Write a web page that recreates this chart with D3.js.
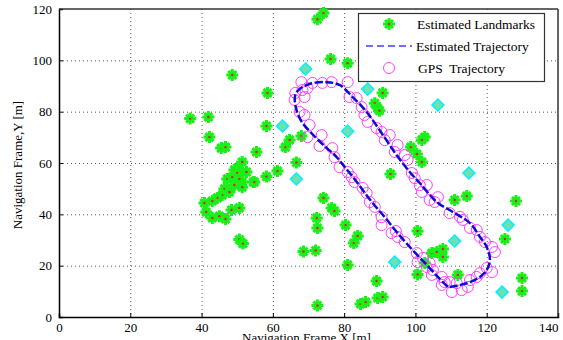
<!DOCTYPE html>
<html>
<head>
<meta charset="utf-8">
<script src="https://cdn.jsdelivr.net/npm/d3@7"></script>
<style>
  body { margin: 0; background: #fff; }
  text { font-family: "Liberation Serif", "Times New Roman", serif; }
</style>
</head>
<body>
<svg id="chart" width="563" height="340"></svg>
<script>
const xTicks = [0, 20, 40, 60, 80, 100, 120, 140];
const yTicks = [0, 20, 40, 60, 80, 100, 120];

// estimated landmarks [x, y]
const landmarks = [
  [36.8, 77.3], [41.9, 77.9], [48.6, 94.3], [58.5, 87.3], [58.2, 74.4], [42.2, 70.1],
  [45.5, 65.8], [46.7, 66.2], [55.4, 64.3], [51.4, 60.4], [72.5, 116.0], [74.2, 118.4],
  [76.2, 100.5], [81.0, 98.9], [90.8, 87.3], [88.6, 83.3], [89.4, 81.4], [89.9, 80.4],
  [64.7, 69.0], [68.0, 70.5], [63.5, 66.2], [66.6, 60.2], [102.6, 70.1], [101.8, 69.0],
  [98.7, 66.2], [100.4, 63.5], [101.8, 60.4], [93.0, 55.7], [114.4, 47.1], [111.0, 45.6],
  [128.2, 45.2], [100.6, 33.5], [125.1, 30.4], [104.6, 24.9], [106.0, 25.3], [107.7, 26.5],
  [107.7, 23.4], [100.6, 16.6], [111.9, 16.4], [129.9, 15.2], [129.9, 10.1], [89.1, 14.0],
  [89.4, 7.4], [90.8, 7.8], [102.6, 21.0], [61.3, 56.9], [58.2, 54.7], [54.5, 52.6],
  [74.2, 46.4], [76.5, 42.5], [77.3, 41.3], [72.3, 38.6], [72.5, 34.7], [80.4, 35.8],
  [83.8, 31.6], [82.7, 28.8], [68.6, 25.5], [72.0, 25.9], [81.0, 20.3], [84.6, 5.1],
  [86.0, 5.8], [72.5, 4.5], [50.6, 30.2], [51.6, 28.6], [50.0, 58.0], [52.6, 56.5],
  [50.6, 55.3], [49.2, 57.3], [51.4, 52.6], [47.2, 53.8], [54.8, 52.6], [51.4, 50.6],
  [49.2, 51.4], [46.4, 49.9], [47.8, 48.7], [45.8, 47.5], [44.4, 46.4], [43.0, 45.2],
  [40.8, 44.4], [41.3, 40.9], [50.6, 42.5], [48.4, 41.7], [43.0, 38.6], [45.0, 39.3],
  [46.7, 38.2], [50.0, 56.1], [48.6, 54.5], [50.6, 53.8]
];

// true landmark positions (diamonds)
const diamonds = [
  [69.2, 96.6], [62.7, 74.4], [81.0, 72.4], [86.6, 88.8], [106.3, 82.6],
  [115.0, 56.1], [126.0, 35.8], [111.0, 29.6], [94.2, 21.4], [124.3, 9.7], [66.6, 53.8]
];

// estimated trajectory
const trajectory = [
  [109.1, 11.7], [106.3, 15.6], [103.2, 20.3], [99.2, 26.1], [95.0, 32.7], [91.4, 38.9],
  [88.0, 44.4], [85.2, 49.5], [82.9, 53.8], [80.4, 58.0], [77.9, 62.3], [74.5, 66.6],
  [70.8, 71.7], [67.8, 76.7], [66.3, 82.6], [66.3, 86.5], [67.5, 88.8], [70.3, 90.8],
  [75.1, 91.5], [78.7, 90.4], [82.4, 85.7], [86.3, 79.9], [90.5, 71.7], [94.7, 63.1],
  [98.4, 56.5], [101.2, 52.2], [106.0, 44.8], [110.5, 40.9], [115.3, 36.6], [118.1, 31.2],
  [120.0, 27.3], [120.9, 22.2], [120.0, 18.3], [118.1, 15.6], [115.3, 13.6], [112.5, 12.5],
  [109.6, 11.7]
];

// GPS fixes
const gps = [
  [68.0, 91.5], [71.1, 91.2], [73.9, 91.2], [76.5, 91.5], [81.0, 91.5], [69.7, 89.2],
  [68.3, 88.4], [66.1, 84.6], [68.9, 85.7], [67.5, 79.9], [68.9, 78.7], [66.3, 87.3],
  [70.3, 74.8], [69.7, 70.1], [73.7, 70.9], [73.1, 66.6], [76.7, 65.8], [77.3, 62.3],
  [78.7, 58.4], [81.0, 56.5], [82.1, 54.5], [82.9, 52.6], [85.2, 50.3], [86.3, 48.3],
  [87.2, 44.8], [88.6, 42.9], [90.5, 38.9], [90.5, 35.8], [93.3, 32.7], [95.0, 31.2],
  [97.0, 29.2], [100.4, 24.9], [102.1, 23.0], [104.0, 21.0], [100.6, 21.4], [103.2, 19.5],
  [104.9, 18.3], [104.6, 16.4], [107.4, 15.6], [108.2, 13.6], [107.4, 12.5], [109.6, 13.6],
  [111.6, 13.2], [110.2, 9.7], [113.0, 10.5], [94.5, 33.5], [114.7, 11.7], [115.3, 14.4],
  [117.2, 15.6], [118.1, 17.1], [120.0, 19.1], [121.5, 17.5], [122.3, 25.3], [121.5, 27.3],
  [119.5, 29.2], [118.1, 31.2], [117.2, 33.9], [115.3, 34.7], [113.3, 37.8], [112.5, 39.0],
  [109.6, 40.5], [105.4, 44.8], [106.3, 46.7], [104.0, 45.6], [101.8, 48.7], [101.2, 51.4],
  [103.2, 51.4], [99.8, 54.1], [99.0, 56.1], [81.5, 85.7], [83.5, 85.3], [84.9, 81.8],
  [85.7, 78.7], [86.6, 76.0], [90.5, 72.1], [92.8, 70.9], [91.4, 68.9], [95.0, 67.0],
  [94.2, 64.3], [97.0, 63.1], [97.8, 61.2], [89.1, 73.6]
];

const legendLabels = ['Estimated Landmarks', 'Estimated Trajectory', 'GPS  Trajectory'];

const svg = d3.select('#chart');
const x = d3.scaleLinear().domain([0, 140]).range([59, 558]);
const y = d3.scaleLinear().domain([0, 120]).range([317, 9]);

// grid
const grid = svg.append('g').attr('stroke', '#555').attr('stroke-width', 1).attr('stroke-dasharray', '1,3');
grid.selectAll('.gx').data(xTicks.slice(1, -1)).join('line')
  .attr('x1', (d) => x(d) + 0.5).attr('x2', (d) => x(d) + 0.5)
  .attr('y1', y(120)).attr('y2', y(0));
grid.selectAll('.gy').data(yTicks.slice(1, -1)).join('line')
  .attr('y1', (d) => y(d) + 0.5).attr('y2', (d) => y(d) + 0.5)
  .attr('x1', x(0)).attr('x2', x(140));

// axes
const xAxis = svg.append('g').attr('transform', `translate(0,${y(0)})`)
  .call(d3.axisBottom(x).tickValues(xTicks).tickSize(-4).tickPadding(6));
const yAxis = svg.append('g').attr('transform', `translate(${x(0)},0)`)
  .call(d3.axisLeft(y).tickValues(yTicks).tickSize(-4).tickPadding(7));
[xAxis, yAxis].forEach((a) => {
  a.select('.domain').attr('stroke', '#000').attr('stroke-width', 1.5);
  a.selectAll('.tick line').attr('stroke', '#000');
  a.selectAll('text').attr('font-family', '"Liberation Serif", "Times New Roman", serif')
    .attr('font-size', 13).attr('fill', '#000');
});
xAxis.selectAll('.tick').filter((d) => d === 140).select('text').attr('text-anchor', 'end');

// top and right box edges
svg.append('line').attr('x1', x(0)).attr('x2', x(140)).attr('y1', y(120)).attr('y2', y(120))
  .attr('stroke', '#333').attr('stroke-width', 1.5);
svg.append('line').attr('x1', x(140)).attr('x2', x(140)).attr('y1', y(120)).attr('y2', y(0))
  .attr('stroke', '#333').attr('stroke-width', 1.5);

// landmark star marker
const drawStar = (g) => {
  g.append('path')
    .attr('d', 'M-6,0H6M0,-6V6M-4,-4L4,4M-4,4L4,-4')
    .attr('stroke', '#18f018').attr('stroke-width', 3);
  g.append('circle').attr('r', 1.2).attr('fill', '#e02020');
};

svg.append('g').selectAll('g').data(landmarks).join('g')
  .attr('transform', (d) => `translate(${x(d[0])},${y(d[1])})`)
  .each(function () { drawStar(d3.select(this)); });

svg.append('g').selectAll('path').data(diamonds).join('path')
  .attr('transform', (d) => `translate(${x(d[0])},${y(d[1])})`)
  .attr('d', 'M0,-6L6,0L0,6L-6,0Z')
  .attr('fill', '#6fe0b0').attr('stroke', '#00f0ff').attr('stroke-width', 1.5);

svg.append('g').selectAll('circle').data(gps).join('circle')
  .attr('cx', (d) => x(d[0])).attr('cy', (d) => y(d[1])).attr('r', 5.5)
  .attr('fill', 'none').attr('stroke', '#ff40ff').attr('stroke-width', 1);

svg.append('path').datum(trajectory)
  .attr('d', d3.line().x((d) => x(d[0])).y((d) => y(d[1])).curve(d3.curveCatmullRom))
  .attr('fill', 'none').attr('stroke', '#0c0cd0').attr('stroke-width', 2.5)
  .attr('stroke-dasharray', '8,2.5');

// legend
const legend = svg.append('g');
legend.append('rect').attr('x', 358.5).attr('y', 13.5).attr('width', 186).attr('height', 68)
  .attr('fill', '#fff').attr('stroke', '#333').attr('stroke-width', 1.2);
const rowY = [24, 46, 68];
drawStar(legend.append('g').attr('transform', `translate(389,${rowY[0]})`));
legend.append('line').attr('x1', 366).attr('x2', 412).attr('y1', rowY[1]).attr('y2', rowY[1])
  .attr('stroke', '#4040f0').attr('stroke-width', 1.5).attr('stroke-dasharray', '7,4');
legend.append('circle').attr('cx', 389).attr('cy', rowY[2]).attr('r', 5.5)
  .attr('fill', 'none').attr('stroke', '#ff40ff');
legend.selectAll('text').data(legendLabels).join('text')
  .attr('x', (d, i) => [417, 416, 418][i]).attr('y', (d, i) => rowY[i] + 4.5)
  .attr('font-size', 13.5).attr('fill', '#000')
  .attr('xml:space', 'preserve').style('white-space', 'pre')
  .text((d) => d);

// axis titles
svg.append('text').attr('x', (x(0) + x(140)) / 2 - 2).attr('y', 342)
  .attr('text-anchor', 'middle').attr('font-size', 13).text('Navigation Frame X [m]');
svg.append('text').attr('transform', `translate(22,${y(60) + 2}) rotate(-90)`)
  .attr('text-anchor', 'middle').attr('font-size', 13).text('Navigation Frame,Y [m]');
</script>
</body>
</html>
